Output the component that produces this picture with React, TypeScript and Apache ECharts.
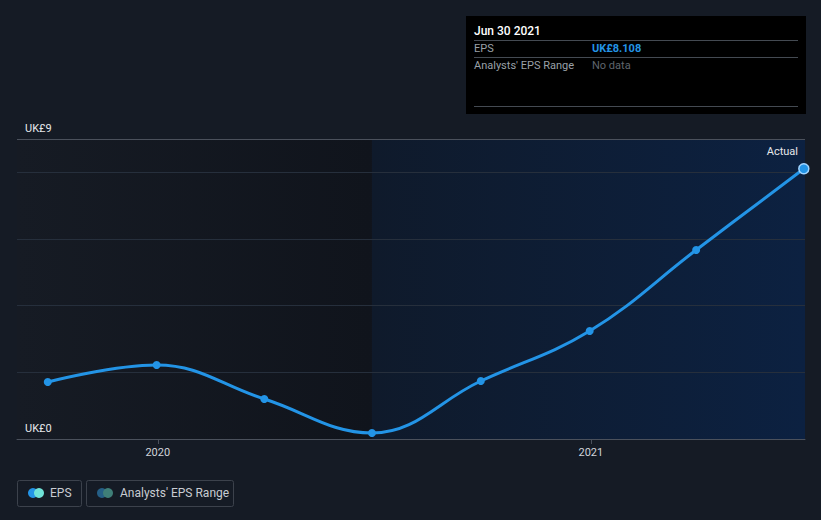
import React, { useEffect, useRef } from "react";
import * as echarts from "echarts";

const dates = ["2019-09-30", "2019-12-31", "2020-03-31", "2020-06-30", "2020-09-30", "2020-12-31", "2021-03-31", "2021-06-30"];
const epsValues = [1.71, 2.22, 1.2, 0.18, 1.74, 3.24, 5.67, 8.108];
const yearTicks = ["2020-01-01", "2021-01-01"];
const axisMin = "2019-09-04";
const axisMax = "2021-07-01";
const actualStart = "2020-06-30";

const ts = (s: string) => {
  const [y, m, d] = s.split("-").map(Number);
  return Date.UTC(y, m - 1, d);
};

const FONT = "Roboto, 'Noto Sans', sans-serif";

export default function App() {
  const ref = useRef<HTMLDivElement>(null);
  useEffect(() => {
    document.body.style.margin = "0";
    document.body.style.background = "#151b25";
    const chart = echarts.init(ref.current!, null, { renderer: "svg" });
    const data = dates.map((d, i) => {
      const item: any = { value: [ts(d), epsValues[i]] };
      if (i === dates.length - 1) {
        item.symbolSize = 10;
        item.itemStyle = { borderColor: "#9fd3ff", borderWidth: 1.5 };
      }
      return item;
    });
    chart.setOption({
      animation: false,
      backgroundColor: "#151b25",
      textStyle: { fontFamily: FONT },
      grid: { left: 17, right: 16, top: 139, bottom: 81 },
      xAxis: {
        type: "value",
        min: ts(axisMin),
        max: ts(axisMax),
        axisLine: { lineStyle: { color: "#4b515c", width: 1 } },
        axisTick: { show: true, customValues: yearTicks.map(ts), length: 5, lineStyle: { color: "#4b515c" } },
        axisLabel: {
          customValues: yearTicks.map(ts),
          color: "#d0d4da",
          fontSize: 11,
          margin: 8,
          fontFamily: FONT,
          formatter: (v: number) => String(new Date(v).getUTCFullYear()),
        },
        splitLine: { show: false },
      },
      yAxis: {
        type: "value",
        min: 0,
        max: 9,
        interval: 2,
        axisLine: { show: false },
        axisTick: { show: false },
        axisLabel: {
          inside: true,
          color: "#e6e8eb",
          fontSize: 11,
          fontFamily: FONT,
          verticalAlign: "bottom",
          padding: [0, 0, 5, 0],
          margin: 8,
          showMinLabel: true,
          showMaxLabel: true,
          formatter: (v: number) => (v === 0 || v === 9 ? "UK£" + v : ""),
        },
        splitLine: { lineStyle: { color: "#262f3c", width: 1 } },
      },
      series: [
        {
          type: "line",
          name: "bg",
          data: [],
          silent: true,
          z: -1,
          markArea: {
            silent: true,
            z: -1,
            data: [
              [
                {
                  xAxis: ts(axisMin),
                  itemStyle: {
                    color: new echarts.graphic.LinearGradient(0, 0, 1, 0, [
                      { offset: 0, color: "#161b24" },
                      { offset: 1, color: "#10141c" },
                    ]),
                  },
                },
                { xAxis: ts(actualStart) },
              ],
              [
                {
                  xAxis: ts(actualStart),
                  name: "Actual",
                  itemStyle: {
                    color: new echarts.graphic.LinearGradient(0, 0, 1, 0, [
                      { offset: 0, color: "#0f1a2b" },
                      { offset: 1, color: "#0c2141" },
                    ]),
                  },
                  label: {
                    show: true,
                    position: "insideTopRight",
                    color: "#e6e8eb",
                    fontSize: 11,
                    fontFamily: FONT,
                    offset: [-2, 2],
                  },
                },
                { xAxis: ts(axisMax) },
              ],
            ],
          },
        },
        {
          type: "line",
          name: "EPS",
          data,
          smooth: 0.4,
          symbol: "circle",
          symbolSize: 8,
          showSymbol: true,
          lineStyle: { color: "#2394e6", width: 3 },
          itemStyle: { color: "#2394e6" },
          z: 5,
          markLine: {
            silent: true,
            symbol: "none",
            label: { show: false },
            lineStyle: { color: "#4b515c", type: "solid", width: 1 },
            data: [{ yAxis: 9 }],
          },
        },
      ],
      graphic: [
        { type: "rect", shape: { x: 466, y: 16, width: 340, height: 98 }, style: { fill: "#000000" } },
        { type: "text", x: 474, y: 31, style: { text: "Jun 30 2021", fill: "#ffffff", fontSize: 12, fontFamily: FONT, fontWeight: 500, verticalAlign: "middle" } },
        { type: "line", shape: { x1: 474, y1: 40.5, x2: 798, y2: 40.5 }, style: { stroke: "#444a52", lineWidth: 1 } },
        { type: "text", x: 474, y: 48, style: { text: "EPS", fill: "#9aa0a8", fontSize: 11, fontFamily: FONT, verticalAlign: "middle" } },
        { type: "text", x: 592, y: 48, style: { text: "UK£8.108", fill: "#2394e6", fontSize: 11, fontWeight: "bold", fontFamily: FONT, verticalAlign: "middle" } },
        { type: "line", shape: { x1: 474, y1: 57.5, x2: 798, y2: 57.5 }, style: { stroke: "#444a52", lineWidth: 1 } },
        { type: "text", x: 474, y: 65, style: { text: "Analysts' EPS Range", fill: "#9aa0a8", fontSize: 11, fontFamily: FONT, verticalAlign: "middle" } },
        { type: "text", x: 592, y: 65, style: { text: "No data", fill: "#5f656d", fontSize: 11, fontFamily: FONT, verticalAlign: "middle" } },
        { type: "line", shape: { x1: 474, y1: 106.5, x2: 798, y2: 106.5 }, style: { stroke: "#444a52", lineWidth: 1 } },

        { type: "rect", shape: { x: 17.5, y: 480.5, width: 64, height: 26, r: 2 }, style: { fill: "none", stroke: "#3c424c", lineWidth: 1 } },
        { type: "circle", shape: { cx: 33, cy: 493, r: 5 }, style: { fill: "#2394e6" } },
        { type: "circle", shape: { cx: 39, cy: 493, r: 5 }, style: { fill: "#6fe3d8" } },
        { type: "text", x: 50, y: 493, style: { text: "EPS", fill: "#c8ccd2", fontSize: 12, fontFamily: FONT, verticalAlign: "middle" } },

        { type: "rect", shape: { x: 86.5, y: 480.5, width: 147, height: 26, r: 2 }, style: { fill: "none", stroke: "#3c424c", lineWidth: 1 } },
        { type: "circle", shape: { cx: 102, cy: 493, r: 5 }, style: { fill: "#255f86" } },
        { type: "circle", shape: { cx: 108, cy: 493, r: 5 }, style: { fill: "#3f7f78" } },
        { type: "text", x: 120, y: 493, style: { text: "Analysts' EPS Range", fill: "#c8ccd2", fontSize: 12, fontFamily: FONT, verticalAlign: "middle" } },
      ],
    });
    return () => chart.dispose();
  }, []);
  return <div ref={ref} style={{ width: 821, height: 520 }} />;
}
